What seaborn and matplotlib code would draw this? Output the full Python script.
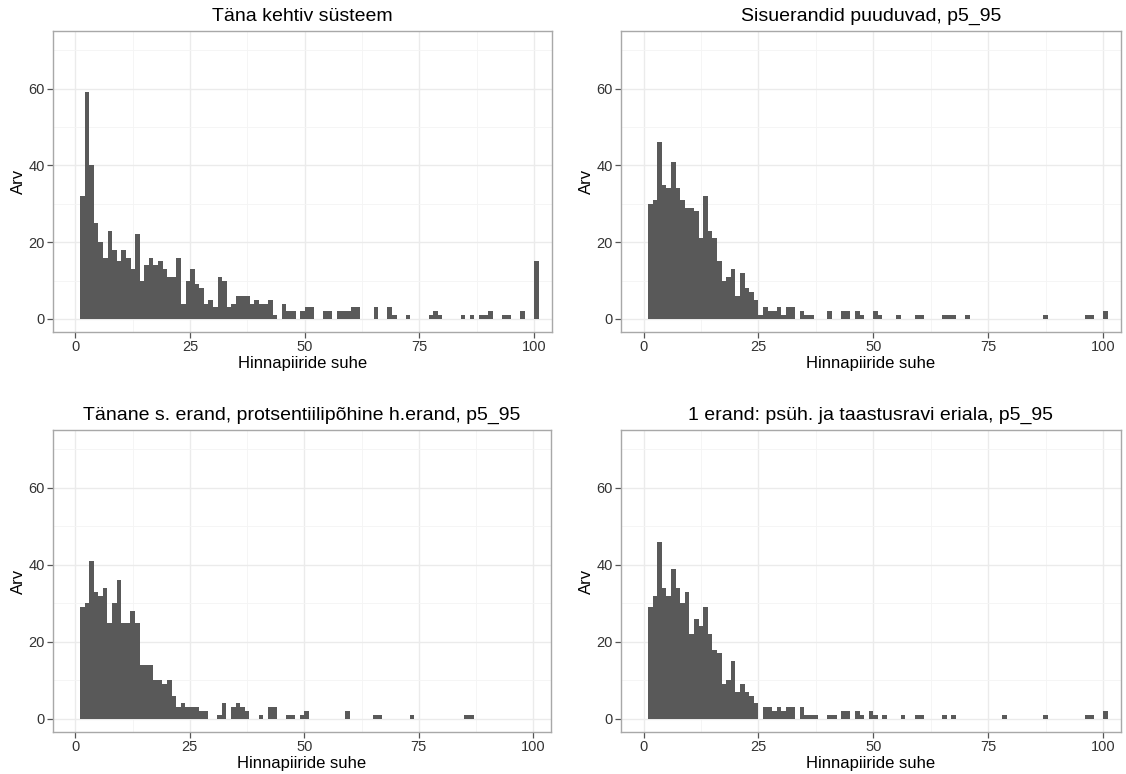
import numpy as np
import pandas as pd
import matplotlib
matplotlib.use("Agg")
import matplotlib.pyplot as plt
import seaborn as sns
from matplotlib.ticker import MultipleLocator, FixedLocator

# ---- data: counts per unit-width bin, bins [1,2), [2,3), ... [100,101] ----
bin_start = 1
bin_count = 100

titles = [
    "Täna kehtiv süsteem",
    "Sisuerandid puuduvad, p5_95",
    "Tänane s. erand, protsentiilipõhine h.erand, p5_95",
    "1 erand: psüh. ja taastusravi eriala, p5_95",
]

counts_current = [
    32, 59, 40, 25, 20, 16, 23, 18, 15, 18,
    16, 13, 22, 10, 14, 16, 14, 15, 13, 11,
    11, 16, 4, 10, 13, 9, 8, 4, 5, 3,
    11, 10, 3, 4, 6, 6, 6, 4, 5, 4,
    4, 5, 1, 0, 4, 2, 2, 0, 2, 3,
    3, 0, 0, 2, 2, 0, 2, 2, 2, 3,
    3, 0, 0, 0, 3, 0, 0, 3, 1, 0,
    0, 1, 0, 0, 0, 0, 1, 2, 1, 0,
    0, 0, 0, 1, 0, 1, 0, 1, 1, 2,
    0, 0, 1, 1, 0, 0, 2, 0, 0, 15,
]

counts_no_exceptions = [
    30, 31, 46, 35, 34, 41, 34, 31, 29, 29,
    28, 21, 32, 23, 21, 15, 10, 11, 13, 6,
    12, 8, 7, 5, 1, 3, 2, 2, 3, 1,
    3, 3, 0, 2, 1, 1, 0, 0, 0, 2,
    0, 0, 2, 2, 0, 2, 1, 0, 0, 2,
    1, 0, 0, 0, 1, 0, 0, 0, 1, 1,
    0, 0, 0, 0, 1, 1, 1, 0, 0, 1,
    0, 0, 0, 0, 0, 0, 0, 0, 0, 0,
    0, 0, 0, 0, 0, 0, 1, 0, 0, 0,
    0, 0, 0, 0, 0, 1, 1, 0, 0, 2,
]

counts_percentile = [
    29, 30, 41, 33, 32, 34, 25, 30, 36, 25,
    25, 28, 25, 14, 14, 14, 10, 10, 9, 10,
    6, 3, 4, 3, 3, 3, 2, 2, 0, 0,
    1, 4, 0, 3, 4, 3, 2, 0, 0, 1,
    0, 3, 3, 0, 0, 1, 1, 0, 1, 2,
    0, 0, 0, 0, 0, 0, 0, 0, 2, 0,
    0, 0, 0, 0, 1, 1, 0, 0, 0, 0,
    0, 0, 1, 0, 0, 0, 0, 0, 0, 0,
    0, 0, 0, 0, 1, 1, 0, 0, 0, 0,
    0, 0, 0, 0, 0, 0, 0, 0, 0, 0,
]

counts_one_exception = [
    29, 32, 46, 34, 32, 39, 34, 30, 33, 22,
    26, 24, 29, 22, 18, 17, 9, 10, 15, 7,
    9, 7, 6, 4, 0, 3, 3, 2, 3, 2,
    3, 3, 0, 3, 1, 1, 1, 0, 0, 1,
    1, 0, 2, 2, 0, 2, 1, 0, 2, 1,
    0, 1, 0, 0, 0, 1, 0, 0, 1, 1,
    0, 0, 0, 0, 1, 0, 1, 0, 0, 0,
    0, 0, 0, 0, 0, 0, 0, 1, 0, 0,
    0, 0, 0, 0, 0, 0, 1, 0, 0, 0,
    0, 0, 0, 0, 0, 1, 1, 0, 0, 2,
]

x_ticks = [0, 25, 50, 75, 100]
y_ticks = [0, 20, 40, 60]
x_label = "Hinnapiiride suhe"
y_label = "Arv"

# ---- styling ----
sns.set_theme(style="white")
plt.rcParams["font.family"] = ["Liberation Sans", "DejaVu Sans"]

BAR = "#595959"
GRID = "#EBEBEB"
BORDER = "#A8A8A8"
TICKC = "#333333"

W, H = 1126, 774
fig = plt.figure(figsize=(W / 100, H / 100), dpi=100)

# panel rectangles in pixels: (left, top, right, bottom)
rects = [
    (53, 31, 552, 332),
    (621, 31, 1121, 332),
    (53, 430, 551, 732),
    (621, 430, 1121, 732),
]
all_counts = [counts_current, counts_no_exceptions, counts_percentile, counts_one_exception]

centers = np.arange(bin_start, bin_start + bin_count) + 0.5

for (l, t, r, b), counts, title in zip(rects, all_counts, titles):
    ax = fig.add_axes([l / W, 1 - b / H, (r - l) / W, (b - t) / H])
    df = pd.DataFrame({"x": centers, "n": np.asarray(counts, dtype=float)})
    sns.histplot(data=df, x="x", weights="n", binwidth=1,
                 binrange=(bin_start, bin_start + bin_count), element="step",
                 fill=True, color=BAR, alpha=1, linewidth=0, ax=ax, zorder=3)
    ax.set_xlim(-4.9, 103.9)
    ax.set_ylim(-3.4, 75)
    ax.xaxis.set_major_locator(FixedLocator(x_ticks))
    ax.yaxis.set_major_locator(FixedLocator(y_ticks))
    ax.xaxis.set_minor_locator(MultipleLocator(12.5))
    ax.yaxis.set_minor_locator(MultipleLocator(10))
    ax.grid(True, which="major", color=GRID, linewidth=1.0, zorder=0)
    ax.grid(True, which="minor", color="#F4F4F4", linewidth=0.6, zorder=0)
    ax.set_axisbelow(True)
    for s in ax.spines.values():
        s.set_color(BORDER)
        s.set_linewidth(1.0)
    ax.tick_params(axis="both", which="major", length=4, width=0.9, color="#555555",
                   labelsize=10.5, labelcolor=TICKC, pad=2, direction="out",
                   bottom=True, left=True)
    ax.tick_params(axis="both", which="minor", length=0)
    ax.set_xlabel(x_label, fontsize=12, color="black", labelpad=1)
    ax.set_ylabel(y_label, fontsize=12, color="black")
    ax.yaxis.set_label_coords(-27 / (r - l), 0.5)
    ax.set_title(title, fontsize=14, color="black", pad=7)

fig.savefig("out.png", dpi=100)
